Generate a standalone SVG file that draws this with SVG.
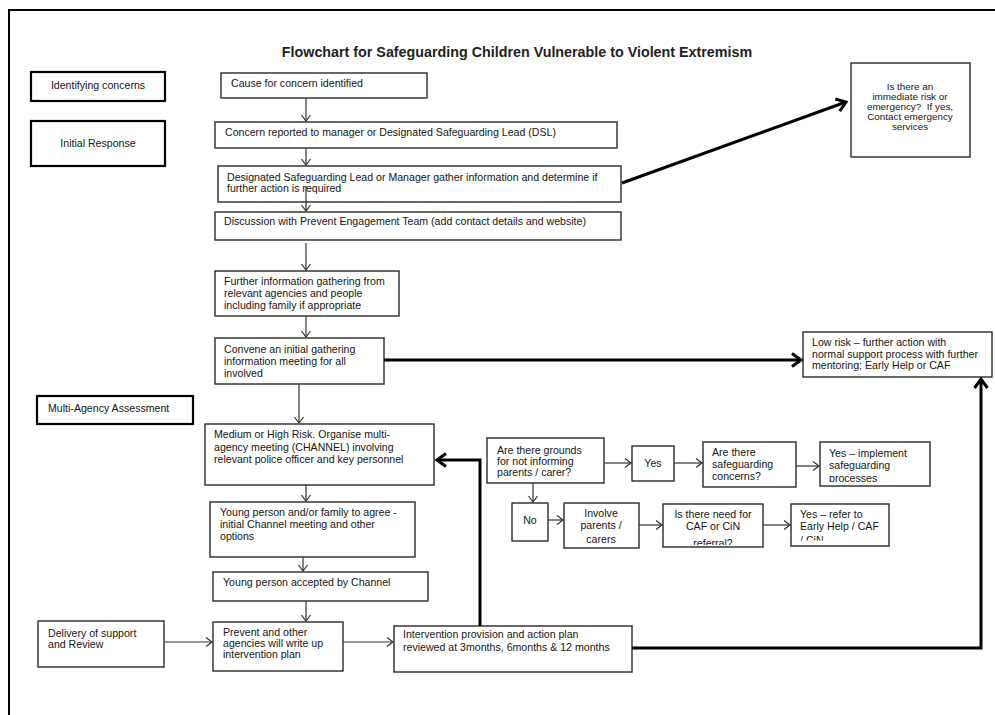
<svg xmlns="http://www.w3.org/2000/svg" width="995" height="715" viewBox="0 0 995 715">
<style>
  .frame{fill:none;stroke:#000;stroke-width:2}
  .box{fill:#fff;stroke:#2a2a2a;stroke-width:1.4}
  .lbl{fill:#fff;stroke:#000;stroke-width:2.2}
  text{font-family:"Liberation Sans",Arial,sans-serif;font-size:10.6px;fill:#151515}
  .title{font-size:14.3px;font-weight:bold;fill:#222}
  .mid{text-anchor:middle}
  .sm{font-size:9.9px}
  .pre{white-space:pre}
  .thin{fill:none;stroke:#333;stroke-width:1.2;marker-end:url(#ah)}
  .thick{fill:none;stroke:#000;stroke-width:3;marker-end:url(#ahT)}
</style>
<defs>
  <marker id="ah" markerUnits="userSpaceOnUse" markerWidth="10" markerHeight="12" refX="7" refY="5" orient="auto" overflow="visible">
    <path d="M1,0.5 L7,5 L1,9.5" fill="none" stroke="#333" stroke-width="1.2"/>
  </marker>
  <marker id="ahT" markerUnits="userSpaceOnUse" markerWidth="14" markerHeight="16" refX="10" refY="7" orient="auto" overflow="visible">
    <path d="M1,0.5 L10,7 L1,13.5" fill="none" stroke="#000" stroke-width="3"/>
  </marker>
  <clipPath id="c1"><rect x="821" y="443" width="108" height="39"/></clipPath>
  <clipPath id="c2"><rect x="565" y="504" width="73" height="39"/></clipPath>
  <clipPath id="c3"><rect x="664" y="505" width="98" height="40"/></clipPath>
  <clipPath id="c4"><rect x="792" y="505" width="96" height="35.5"/></clipPath>
</defs>
<rect width="995" height="715" fill="#fff"/>
<rect class="frame" x="9" y="10" width="1000" height="720"/>
<text class="title mid" x="517" y="57">Flowchart for Safeguarding Children Vulnerable to Violent Extremism</text>

<g id="lbl-identifying"><rect class="lbl" x="31" y="72" width="134" height="29"/><text class="mid" x="98" y="89">Identifying concerns</text></g>
<g id="lbl-initial"><rect class="lbl" x="31" y="121" width="134" height="45"/><text class="mid" x="98" y="147">Initial Response</text></g>
<g id="lbl-multi"><rect class="lbl" x="37" y="396" width="156" height="28"/><text x="48" y="412">Multi-Agency Assessment</text></g>
<g id="lbl-delivery"><rect class="box" x="38" y="621" width="126" height="46"/><text x="48" y="636.5">Delivery of support</text><text x="48" y="647.5">and Review</text></g>

<g id="n-cause"><rect class="box" x="221" y="73" width="206" height="25"/><text x="231" y="87">Cause for concern identified</text></g>
<g id="n-reported"><rect class="box" x="215" y="122" width="402" height="26"/><text x="225" y="136">Concern reported to manager or Designated Safeguarding Lead (DSL)</text></g>
<g id="n-dsl"><rect class="box" x="218" y="166" width="403" height="36"/><text x="227" y="181">Designated Safeguarding Lead or Manager gather information and determine if</text><text x="227" y="192">further action is required</text></g>
<g id="n-discussion"><rect class="box" x="215" y="212" width="406" height="28"/><text x="224" y="225">Discussion with Prevent Engagement Team (add contact details and website)</text></g>
<g id="n-further"><rect class="box" x="215" y="271" width="184" height="45"/><text x="224" y="285">Further information gathering from</text><text x="224" y="297">relevant agencies and people</text><text x="224" y="309">including family if appropriate</text></g>
<g id="n-convene"><rect class="box" x="215" y="338" width="169" height="46"/><text x="224" y="353">Convene an initial gathering</text><text x="224" y="365">information meeting for all</text><text x="224" y="377">involved</text></g>
<g id="n-medium"><rect class="box" x="205" y="424" width="229" height="61"/><text x="214" y="438">Medium or High Risk. Organise multi-</text><text x="214" y="451">agency meeting (CHANNEL) involving</text><text x="214" y="463">relevant police officer and key personnel</text></g>
<g id="n-agree"><rect class="box" x="210" y="502" width="205" height="55"/><text x="220" y="516">Young person and/or family to agree -</text><text x="220" y="528">initial Channel meeting and other</text><text x="220" y="540">options</text></g>
<g id="n-accepted"><rect class="box" x="213" y="572" width="215" height="29"/><text x="223" y="586">Young person accepted by Channel</text></g>
<g id="n-prevent"><rect class="box" x="213" y="622" width="130" height="49"/><text x="223" y="636">Prevent and other</text><text x="223" y="647">agencies will write up</text><text x="223" y="658">intervention plan</text></g>
<g id="n-intervention"><rect class="box" x="394" y="626" width="238" height="46"/><text x="403" y="638">Intervention provision and action plan</text><text x="403" y="651">reviewed at 3months, 6months &amp; 12 months</text></g>

<g id="n-lowrisk"><rect class="box" x="803" y="332" width="189" height="45"/><text x="812" y="346">Low risk – further action with</text><text x="812" y="358">normal support process with further</text><text x="812" y="369">mentoring; Early Help or CAF</text></g>
<g id="n-emergency"><rect class="box" x="851" y="63" width="119" height="94"/><text class="mid sm" x="910" y="90">Is there an</text><text class="mid sm" x="910" y="100">immediate risk or</text><text class="mid sm pre" x="910" y="110">emergency?  If yes,</text><text class="mid sm" x="910" y="120">Contact emergency</text><text class="mid sm" x="910" y="130">services</text></g>

<g id="n-grounds"><rect class="box" x="487" y="438" width="117" height="45"/><text x="497" y="454">Are there grounds</text><text x="497" y="465">for not informing</text><text x="497" y="476">parents / carer?</text></g>
<g id="n-yes"><rect class="box" x="632" y="446" width="42" height="35"/><text class="mid" x="653" y="467">Yes</text></g>
<g id="n-sgconcerns"><rect class="box" x="703" y="442" width="93" height="45"/><text x="712" y="456">Are there</text><text x="712" y="468">safeguarding</text><text x="712" y="480">concerns?</text></g>
<g id="n-implement"><rect class="box" x="820" y="442" width="110" height="44"/><g clip-path="url(#c1)"><text x="829" y="457">Yes – implement</text><text x="829" y="469">safeguarding</text><text x="829" y="482">processes</text></g></g>
<g id="n-no"><rect class="box" x="512" y="503" width="36" height="38"/><text class="mid" x="530" y="524">No</text></g>
<g id="n-involve"><rect class="box" x="564" y="503" width="75" height="45"/><g clip-path="url(#c2)"><text class="mid" x="601" y="517">Involve</text><text class="mid" x="601" y="529">parents /</text><text class="mid" x="601" y="543">carers</text></g></g>
<g id="n-cafneed"><rect class="box" x="663" y="504" width="100" height="43"/><g clip-path="url(#c3)"><text class="mid" x="713" y="518">Is there need for</text><text class="mid" x="713" y="530">CAF or CiN</text><text class="mid" x="713" y="547">referral?</text></g></g>
<g id="n-refer"><rect class="box" x="791" y="504" width="98" height="42"/><g clip-path="url(#c4)"><text x="800" y="518">Yes – refer to</text><text x="800" y="530">Early Help / CAF</text><text x="800" y="544">/ CiN</text></g></g>

<g id="connectors">
  <line class="thin" x1="306" y1="98" x2="306" y2="121"/>
  <line class="thin" x1="306" y1="148" x2="306" y2="165"/>
  <line class="thin" x1="306" y1="186" x2="306" y2="211"/>
  <line class="thin" x1="306" y1="243" x2="306" y2="270"/>
  <line class="thin" x1="306" y1="316" x2="306" y2="337"/>
  <line class="thin" x1="299" y1="384" x2="299" y2="423"/>
  <line class="thin" x1="306" y1="485" x2="306" y2="501"/>
  <line class="thin" x1="303" y1="557" x2="303" y2="571"/>
  <line class="thin" x1="306" y1="601" x2="306" y2="621"/>
  <line class="thin" x1="164" y1="642" x2="212" y2="642"/>
  <line class="thin" x1="343" y1="642" x2="393" y2="642"/>
  <line class="thin" x1="604" y1="463" x2="631" y2="463"/>
  <line class="thin" x1="674" y1="463" x2="702" y2="463"/>
  <line class="thin" x1="796" y1="466" x2="819" y2="466"/>
  <line class="thin" x1="533" y1="483" x2="533" y2="502"/>
  <line class="thin" x1="548" y1="520" x2="563" y2="520"/>
  <line class="thin" x1="639" y1="525" x2="662" y2="525"/>
  <line class="thin" x1="763" y1="525" x2="790" y2="525"/>
  <line class="thick" x1="622" y1="183" x2="846" y2="102"/>
  <line class="thick" x1="384" y1="360" x2="801" y2="360"/>
  <path class="thick" d="M480,626 V460 H437"/>
  <path class="thick" d="M632,648 H981 V379"/>
</g>
</svg>
